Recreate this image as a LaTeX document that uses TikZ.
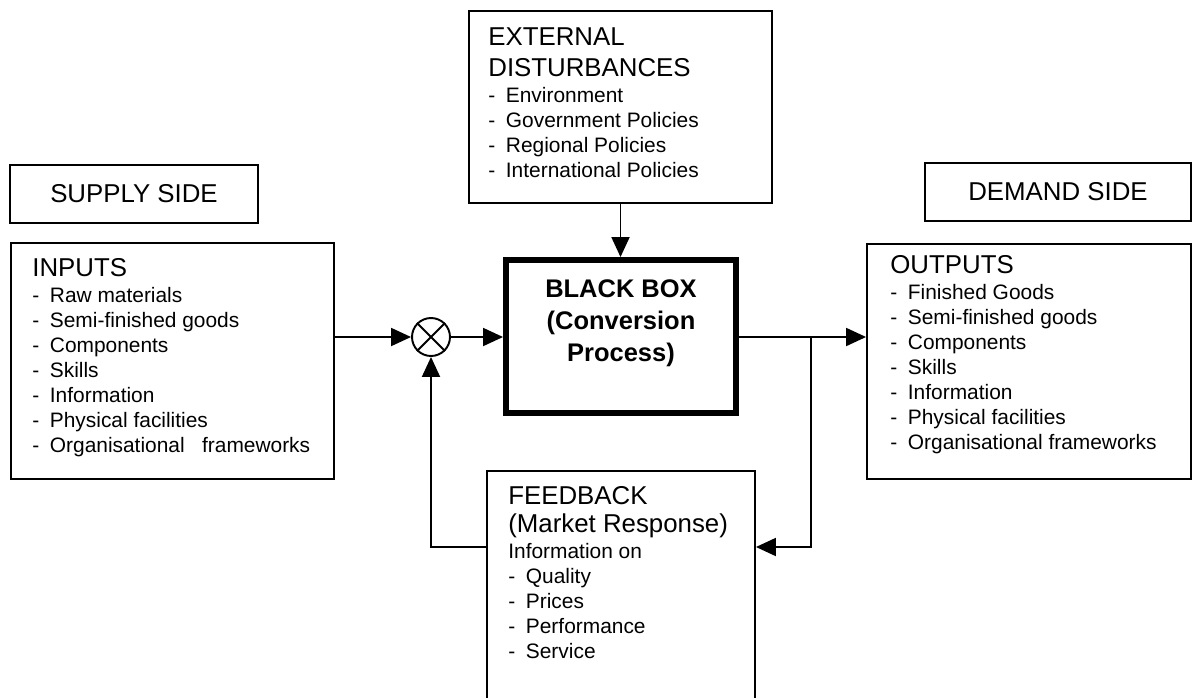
\documentclass[tikz,border=0pt]{standalone}
\usepackage{fontspec}
\setmainfont{Liberation Sans}
\usetikzlibrary{arrows.meta}
\newcommand{\boxtitle}[1]{{\fontsize{14.7}{17.6}\selectfont #1}}
\newcommand{\dashitem}[1]{\makebox[10pt][l]{-}#1}
\begin{document}
\begin{tikzpicture}[x=0.02cm,y=-0.02cm]
    \tikzstyle{box}=[draw=black,line width=1.1pt,rectangle,inner sep=0pt]
    \tikzstyle{side}=[box,minimum height=1.16cm,font=\fontsize{14.7}{17.6}\selectfont]
    \tikzstyle{listing}=[anchor=north west,align=left,inner sep=0pt,font=\fontsize{11.9}{14.2}\selectfont]
    \tikzstyle{flow}=[line width=1.1pt,-{Triangle[length=0.4cm,width=0.36cm]}]

    \useasboundingbox (0,0) rectangle (1193,697);
    \clip (0,0) rectangle (1193,697);

    \node[side,minimum width=4.96cm] at (134,194) (supply) {SUPPLY SIDE};
    \node[side,minimum width=5.32cm] at (1058,192) (demand) {DEMAND SIDE};

    \node[box,minimum width=6.06cm,minimum height=3.84cm] at (620.5,107) (ext) {};
    \node[listing] at (488,27) (extlist) {\boxtitle{EXTERNAL}\\[3.4pt]
        \boxtitle{DISTURBANCES}\\[1pt]
        \dashitem{Environment}\\
        \dashitem{Government Policies}\\
        \dashitem{Regional Policies}\\
        \dashitem{International Policies}};

    \node[box,minimum width=6.46cm,minimum height=4.72cm] at (172.5,361) (inputs) {};
    \node[listing] at (32,258) (inputslist) {\boxtitle{INPUTS}\\[0.8pt]
        \dashitem{Raw materials}\\
        \dashitem{Semi-finished goods}\\
        \dashitem{Components}\\
        \dashitem{Skills}\\
        \dashitem{Information}\\
        \dashitem{Physical facilities}\\
        \dashitem{Organisational\ \ \ frameworks}};

    \node[box,minimum width=6.48cm,minimum height=4.7cm] at (1029,361.5) (outputs) {};
    \node[listing] at (890,255) (outputslist) {\boxtitle{OUTPUTS}\\[0.8pt]
        \dashitem{Finished Goods}\\
        \dashitem{Semi-finished goods}\\
        \dashitem{Components}\\
        \dashitem{Skills}\\
        \dashitem{Information}\\
        \dashitem{Physical facilities}\\
        \dashitem{Organisational frameworks}};

    \node[box,line width=0.12cm,minimum width=4.6cm,minimum height=3.06cm] at (621,336.5) (bbox) {};
    \node[anchor=north,align=center,inner sep=0pt,font=\bfseries\fontsize{14.5}{18.2}\selectfont] at (621,279) (bbtext) {BLACK BOX\\(Conversion\\Process)};

    \node[box,circle,minimum size=0.76cm] at (431,337) (sum) {};
    \draw[line width=1.1pt] (sum.north west) -- (sum.south east) (sum.north east) -- (sum.south west);

    \node[box,minimum width=5.36cm,minimum height=4.92cm] at (621,594) (feedback) {};
    \node[listing] at (508,486) (feedbacklist) {\boxtitle{FEEDBACK}\\[1.8pt]
        \boxtitle{(Market Response)}\\[0.6pt]
        Information on\\
        \dashitem{Quality}\\
        \dashitem{Prices}\\
        \dashitem{Performance}\\
        \dashitem{Service}};

    \coordinate (tap) at (811,337);
    \coordinate (loop) at (811,547);

    \draw[flow] (inputs.east |- sum) -- (sum.west);
    \draw[flow] (sum.east) -- (bbox.west |- sum);
    \draw[flow] (ext.south) -- (ext.south |- bbox.north);
    \draw[flow] (bbox.east |- sum) -- (outputs.west |- sum);
    \draw[flow] (tap) -- (loop) -- (feedback.east |- loop);
    \draw[flow] (feedback.west |- loop) -| (sum.south);
\end{tikzpicture}
\end{document}
